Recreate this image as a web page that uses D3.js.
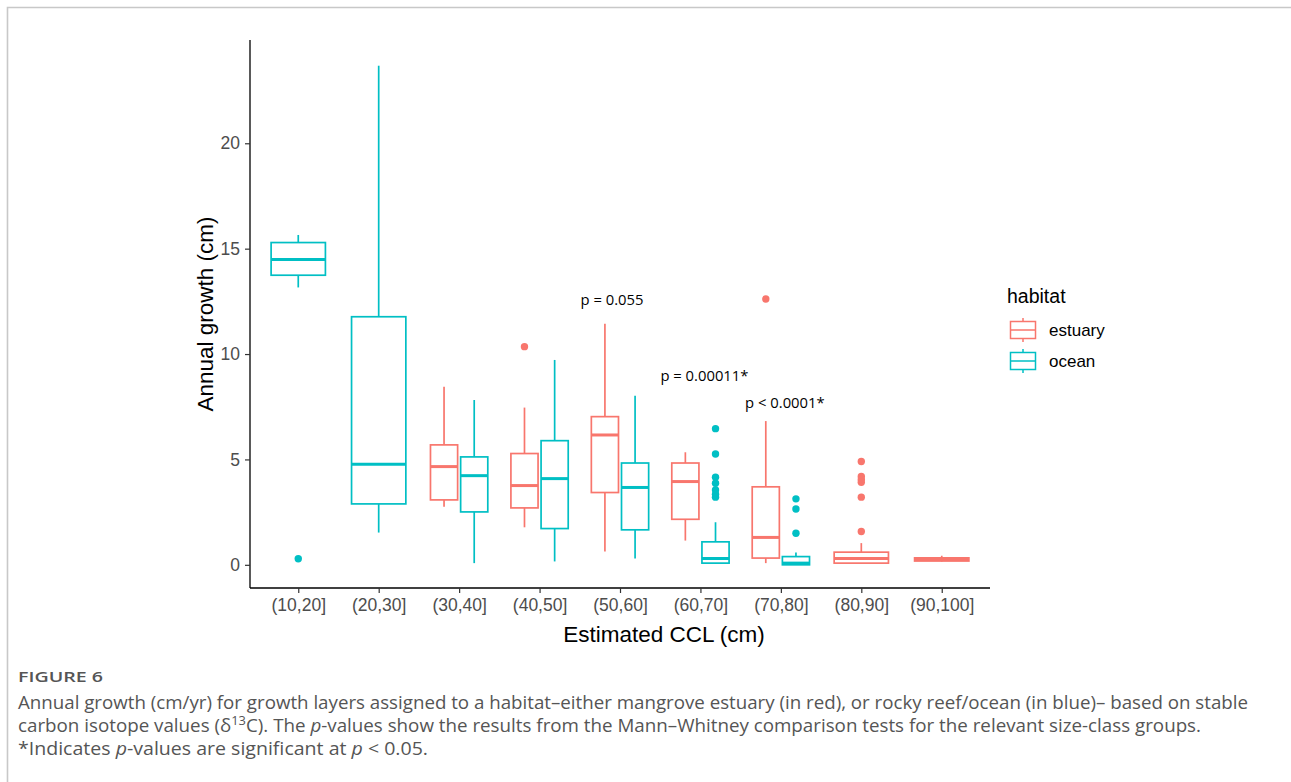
<!DOCTYPE html>
<html>
<head>
<meta charset="utf-8">
<script src="https://cdn.jsdelivr.net/npm/d3@7"></script>
<style>
  html, body { margin: 0; padding: 0; background: #fff; }
  svg { display: block; }
</style>
</head>
<body>
<svg id="chart" width="1291" height="782"></svg>
<script>
// ---------------- DATA ----------------
const categories = ["(10,20]", "(20,30]", "(30,40]", "(40,50]", "(50,60]", "(60,70]", "(70,80]", "(80,90]", "(90,100]"];
const habitats = ["estuary", "ocean"];
const habitatColors = ["#F8766D", "#00BFC4"];

// estuary boxes
const estuaryCats    = ["(30,40]", "(40,50]", "(50,60]", "(60,70]", "(70,80]", "(80,90]", "(90,100]"];
const estuaryLow     = [2.76, 1.78, 0.63, 1.15, 0.08, 0.05, 0.15];
const estuaryQ1      = [3.08, 2.70, 3.43, 2.16, 0.32, 0.08, 0.18];
const estuaryMedian  = [4.66, 3.76, 6.16, 3.95, 1.30, 0.30, 0.25];
const estuaryQ3      = [5.69, 5.28, 7.03, 4.83, 3.70, 0.60, 0.33];
const estuaryHigh    = [8.45, 7.46, 11.44, 5.34, 6.82, 1.03, 0.43];
const estuaryOutlierCats   = ["(40,50]", "(70,80]", "(80,90]", "(80,90]", "(80,90]", "(80,90]", "(80,90]", "(80,90]"];
const estuaryOutlierValues = [10.35, 12.61, 4.90, 4.19, 4.05, 3.92, 3.21, 1.58];

// ocean boxes
const oceanCats      = ["(10,20]", "(20,30]", "(30,40]", "(40,50]", "(50,60]", "(60,70]", "(70,80]"];
const oceanLow       = [13.16, 1.53, 0.08, 0.16, 0.30, 0.05, 0.00];
const oceanQ1        = [13.74, 2.89, 2.51, 1.72, 1.66, 0.08, 0.00];
const oceanMedian    = [14.48, 4.77, 4.23, 4.09, 3.67, 0.30, 0.08];
const oceanQ3        = [15.29, 11.77, 5.12, 5.89, 4.83, 1.09, 0.39];
const oceanHigh      = [15.65, 23.68, 7.82, 9.72, 8.02, 2.02, 0.58];
const oceanOutlierCats   = ["(10,20]", "(60,70]", "(60,70]", "(60,70]", "(60,70]", "(60,70]", "(60,70]", "(60,70]", "(70,80]", "(70,80]", "(70,80]"];
const oceanOutlierValues = [0.29, 6.46, 5.26, 4.16, 3.87, 3.55, 3.35, 3.21, 3.13, 2.65, 1.50];

const yTicks = [0, 5, 10, 15, 20];
const yDomain = [-1.1, 24.9];

const pLabelCats = ["(50,60]", "(60,70]", "(70,80]"];
const pLabelTexts = ["p = 0.055", "p = 0.00011*", "p < 0.0001*"];
const pLabelValues = [12.5, 8.9, 7.65];

const xTitle = "Estimated CCL (cm)";
const yTitle = "Annual growth (cm)";
const legendTitle = "habitat";

// ---------------- LAYOUT ----------------
const svg = d3.select("#chart");
const panel = { left: 250, right: 990, top: 40, bottom: 588 };
const chartFont = "'Liberation Sans', Arial, sans-serif";

// page border
svg.append("path")
  .attr("d", "M7.5,782 L7.5,7.5 L1291,7.5")
  .attr("fill", "none").attr("stroke", "#c8c8c8").attr("stroke-width", 1.6);

const x = d3.scalePoint().domain(categories).range([panel.left, panel.right]).padding(0.6);
const step = x.step();
const y = d3.scaleLinear().domain(yDomain).range([panel.bottom, panel.top]);
const color = d3.scaleOrdinal().domain(habitats).range(habitatColors);

function buildBoxes(habitat, cats, low, q1, med, q3, high) {
  return cats.map((c, i) => ({ habitat, cat: c, low: low[i], q1: q1[i], med: med[i], q3: q3[i], high: high[i] }));
}
const boxes = buildBoxes("estuary", estuaryCats, estuaryLow, estuaryQ1, estuaryMedian, estuaryQ3, estuaryHigh)
  .concat(buildBoxes("ocean", oceanCats, oceanLow, oceanQ1, oceanMedian, oceanQ3, oceanHigh));

// dodge2 positions
function placement(habitat, cat) {
  const present = habitats.filter(h => (h === "estuary" ? estuaryCats : oceanCats).includes(cat));
  const n = present.length;
  const slot = 0.75 * step / n;
  const idx = present.indexOf(habitat);
  const cx = x(cat) - 0.375 * step + slot * (idx + 0.5);
  return { cx, w: slot * 0.9 };
}

const g = svg.append("g");
const lw = 1.7;

g.selectAll("line.whisker-hi").data(boxes).join("line")
  .attr("x1", d => placement(d.habitat, d.cat).cx).attr("x2", d => placement(d.habitat, d.cat).cx)
  .attr("y1", d => y(d.q3)).attr("y2", d => y(d.high))
  .attr("stroke", d => color(d.habitat)).attr("stroke-width", lw);
g.selectAll("line.whisker-lo").data(boxes).join("line")
  .attr("x1", d => placement(d.habitat, d.cat).cx).attr("x2", d => placement(d.habitat, d.cat).cx)
  .attr("y1", d => y(d.q1)).attr("y2", d => y(d.low))
  .attr("stroke", d => color(d.habitat)).attr("stroke-width", lw);

g.selectAll("rect.box").data(boxes).join("rect")
  .attr("x", d => { const p = placement(d.habitat, d.cat); return p.cx - p.w / 2; })
  .attr("width", d => placement(d.habitat, d.cat).w)
  .attr("y", d => y(d.q3))
  .attr("height", d => Math.max(0.5, y(d.q1) - y(d.q3)))
  .attr("fill", "#fff").attr("stroke", d => color(d.habitat)).attr("stroke-width", lw);

g.selectAll("line.median").data(boxes).join("line")
  .attr("x1", d => { const p = placement(d.habitat, d.cat); return p.cx - p.w / 2; })
  .attr("x2", d => { const p = placement(d.habitat, d.cat); return p.cx + p.w / 2; })
  .attr("y1", d => y(d.med)).attr("y2", d => y(d.med))
  .attr("stroke", d => color(d.habitat)).attr("stroke-width", 3);

const outliers = estuaryOutlierCats.map((c, i) => ({ habitat: "estuary", cat: c, v: estuaryOutlierValues[i] }))
  .concat(oceanOutlierCats.map((c, i) => ({ habitat: "ocean", cat: c, v: oceanOutlierValues[i] })));
g.selectAll("circle.out").data(outliers).join("circle")
  .attr("cx", d => placement(d.habitat, d.cat).cx)
  .attr("cy", d => y(d.v))
  .attr("r", 3.7)
  .attr("fill", d => color(d.habitat));

// p-value labels
svg.selectAll("text.plabel").data(pLabelTexts).join("text")
  .attr("x", (d, i) => x(pLabelCats[i]) - 8 + (i === 0 ? 0 : 12))
  .attr("y", (d, i) => y(pLabelValues[i]))
  .attr("text-anchor", "middle")
  .attr("dominant-baseline", "middle")
  .attr("font-family", "'Open Sans', 'Noto Sans', sans-serif")
  .attr("font-size", 14.8)
  .attr("fill", "#000")
  .text(d => d);

// ---------------- AXES ----------------
const yAxis = svg.append("g").attr("transform", `translate(${panel.left},0)`)
  .call(d3.axisLeft(y).tickValues(yTicks).tickSize(5).tickPadding(5));
yAxis.select(".domain").attr("d", `M0,${panel.bottom}V${panel.top}`).attr("stroke", "#000").attr("stroke-width", 1.3);
yAxis.selectAll(".tick line").attr("stroke", "#333").attr("stroke-width", 1.2);
yAxis.selectAll(".tick text").attr("font-family", chartFont).attr("font-size", 17.5).attr("fill", "#4d4d4d");

const xAxis = svg.append("g").attr("transform", `translate(0,${panel.bottom})`)
  .call(d3.axisBottom(x).tickSize(5).tickPadding(6));
xAxis.select(".domain").attr("d", `M${panel.left},0H${panel.right}`).attr("stroke", "#000").attr("stroke-width", 1.3);
xAxis.selectAll(".tick line").attr("stroke", "#333").attr("stroke-width", 1.2);
xAxis.selectAll(".tick text").attr("font-family", chartFont).attr("font-size", 17.5).attr("fill", "#4d4d4d");

svg.append("text")
  .attr("x", 664).attr("y", 642)
  .attr("text-anchor", "middle")
  .attr("font-family", chartFont).attr("font-size", 22.5).attr("fill", "#000")
  .text(xTitle);

svg.append("text")
  .attr("transform", `translate(213,${(panel.top + panel.bottom) / 2}) rotate(-90)`)
  .attr("text-anchor", "middle")
  .attr("font-family", chartFont).attr("font-size", 22.5).attr("fill", "#000")
  .text(yTitle);

// ---------------- LEGEND ----------------
const legend = svg.append("g").attr("transform", "translate(1007,0)");
legend.append("text").attr("x", 0).attr("y", 303)
  .attr("font-family", chartFont).attr("font-size", 19.5).attr("fill", "#000").text(legendTitle);
const keyY = [330, 361];
habitats.forEach((h, i) => {
  const cy = keyY[i];
  const k = legend.append("g");
  k.append("line").attr("x1", 16).attr("x2", 16).attr("y1", cy - 12).attr("y2", cy + 12)
    .attr("stroke", color(h)).attr("stroke-width", 1.5);
  k.append("rect").attr("x", 3.5).attr("y", cy - 8.5).attr("width", 25).attr("height", 17)
    .attr("fill", "#fff").attr("stroke", color(h)).attr("stroke-width", 1.5);
  k.append("line").attr("x1", 3.5).attr("x2", 28.5).attr("y1", cy).attr("y2", cy)
    .attr("stroke", color(h)).attr("stroke-width", 1.5);
  legend.append("text").attr("x", 42).attr("y", cy + 6)
    .attr("font-family", chartFont).attr("font-size", 17).attr("fill", "#000").text(h);
});

// ---------------- CAPTION ----------------
const capFont = "'Open Sans', 'Noto Sans', sans-serif";
svg.append("text").attr("x", 18).attr("y", 682)
  .attr("font-family", capFont).attr("font-size", 15).attr("font-weight", 600).attr("fill", "#555")
  .attr("textLength", 85).attr("lengthAdjust", "spacingAndGlyphs")
  .text("FIGURE 6");

const capSize = 17.5;
svg.append("text").attr("x", 18).attr("y", 709)
  .attr("font-family", capFont).attr("font-size", capSize).attr("fill", "#555")
  .attr("textLength", 1230).attr("lengthAdjust", "spacingAndGlyphs")
  .text("Annual growth (cm/yr) for growth layers assigned to a habitat\u2013either mangrove estuary (in red), or rocky reef/ocean (in blue)\u2013 based on stable");

const cap2 = svg.append("text").attr("x", 18).attr("y", 732)
  .attr("font-family", capFont).attr("font-size", capSize).attr("fill", "#555")
  .attr("textLength", 1183).attr("lengthAdjust", "spacingAndGlyphs");
cap2.append("tspan").text("carbon isotope values (\u03B4");
cap2.append("tspan").attr("dy", -7).attr("font-size", 12).text("13");
cap2.append("tspan").attr("dy", 7).text("C). The ");
cap2.append("tspan").attr("font-style", "italic").text("p");
cap2.append("tspan").text("-values show the results from the Mann\u2013Whitney comparison tests for the relevant size-class groups.");

const cap3 = svg.append("text").attr("x", 18).attr("y", 755)
  .attr("font-family", capFont).attr("font-size", capSize).attr("fill", "#555")
  .attr("textLength", 410).attr("lengthAdjust", "spacingAndGlyphs");
cap3.append("tspan").text("*Indicates ");
cap3.append("tspan").attr("font-style", "italic").text("p");
cap3.append("tspan").text("-values are significant at ");
cap3.append("tspan").attr("font-style", "italic").text("p");
cap3.append("tspan").text(" < 0.05.");
</script>
</body>
</html>
